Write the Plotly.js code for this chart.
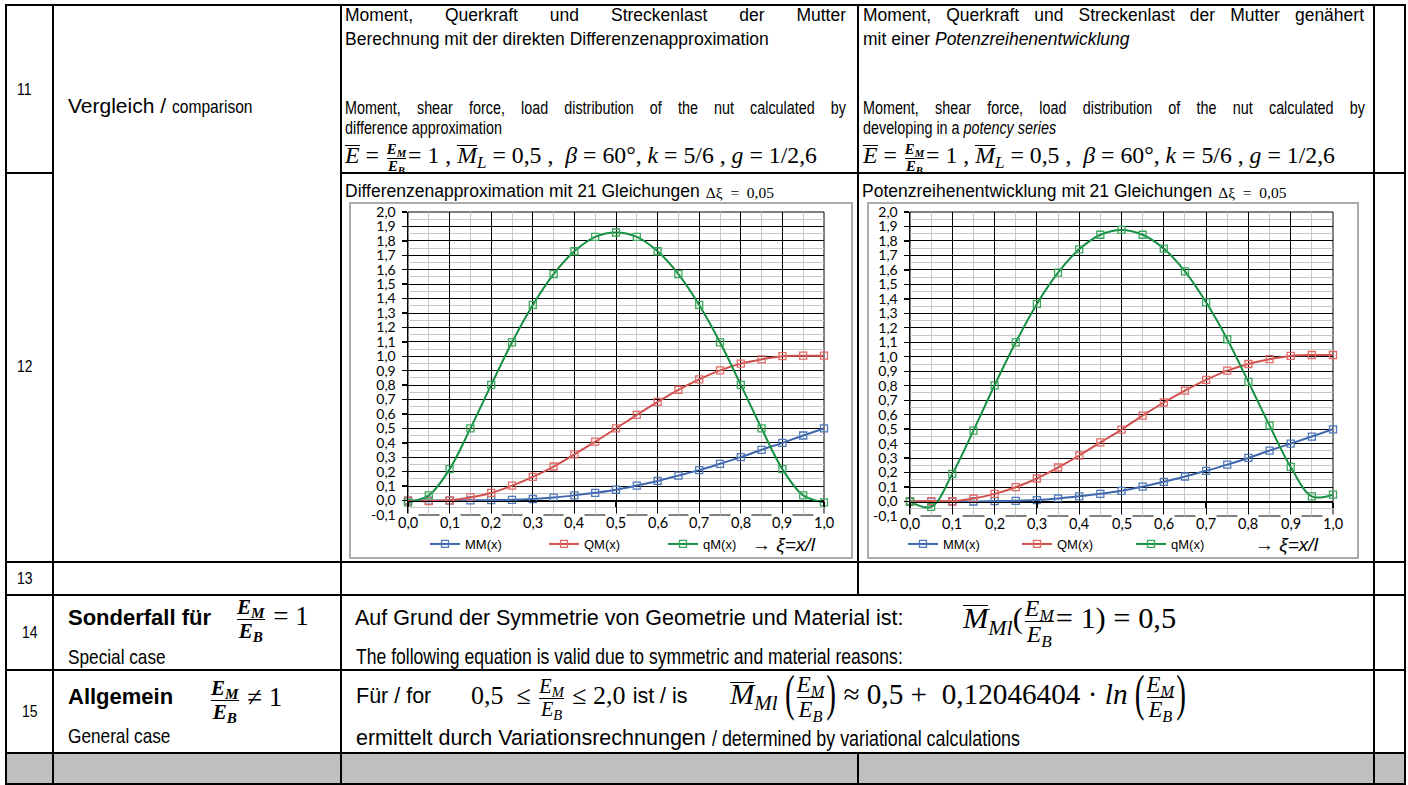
<!DOCTYPE html>
<html><head><meta charset="utf-8">
<script src="https://cdn.plot.ly/plotly-3.0.1.min.js"></script>
<style>
body{margin:0;width:1408px;height:785px;overflow:hidden;background:#fff;position:relative;color:#000}
.hl{position:absolute;background:#000;height:2px}
.vl{position:absolute;background:#000;width:2px}
.t{position:absolute;white-space:nowrap;line-height:1.15;z-index:5}
.fr{display:inline-flex;flex-direction:column;vertical-align:middle;text-align:center;line-height:1.05;margin:0 2px}
.fr>span:first-child{border-bottom:1.3px solid #000}
.ob{display:inline-block;line-height:.75;border-top:1.2px solid #000;padding-top:1px}
sub{font-size:.72em;vertical-align:-.28em;line-height:0}
.bp{display:inline-block;transform:scale(1,1.7)}
.plot{position:absolute;z-index:2}
.box{position:absolute;box-sizing:border-box;border:2px solid #ababab;z-index:6;pointer-events:none}
</style></head>
<body>
<div style="position:absolute;left:6px;top:753px;width:1399px;height:31px;background:#bfbfbf"></div>
<!-- horizontal rules -->
<div class="hl" style="left:5px;top:4px;width:1401px"></div>
<div class="hl" style="left:5px;top:172px;width:49px"></div>
<div class="hl" style="left:340px;top:172px;width:1066px"></div>
<div class="hl" style="left:5px;top:561px;width:1401px"></div>
<div class="hl" style="left:5px;top:594px;width:1401px"></div>
<div class="hl" style="left:5px;top:669px;width:1401px"></div>
<div class="hl" style="left:5px;top:752px;width:1401px"></div>
<div class="hl" style="left:5px;top:783px;width:1401px"></div>
<!-- vertical rules -->
<div class="vl" style="left:5px;top:4px;height:781px"></div>
<div class="vl" style="left:52px;top:4px;height:781px"></div>
<div class="vl" style="left:340px;top:4px;height:781px"></div>
<div class="vl" style="left:857px;top:4px;height:591px"></div>
<div class="vl" style="left:857px;top:752px;height:33px"></div>
<div class="vl" style="left:1373px;top:4px;height:781px"></div>
<div class="vl" style="left:1404px;top:4px;height:781px"></div>

<div id="c1" class="plot" style="left:349px;top:202px;width:504px;height:357px"></div>
<div class="box" style="left:349px;top:202px;width:504px;height:357px"></div>
<div id="c2" class="plot" style="left:867px;top:202px;width:492px;height:357px"></div>
<div class="box" style="left:867px;top:202px;width:492px;height:357px"></div>

<script>
// ---------- data ----------
const xi = [0,0.05,0.1,0.15,0.2,0.25,0.3,0.35,0.4,0.45,0.5,0.55,0.6,0.65,0.7,0.75,0.8,0.85,0.9,0.95,1.0];
const seriesNames = ['MM(x)','QM(x)','qM(x)'];
// Differenzenapproximation (left chart)
const diffMM = [0,0,0,0.002,0.003,0.005,0.011,0.021,0.036,0.054,0.075,0.104,0.136,0.173,0.211,0.255,0.301,0.352,0.400,0.451,0.500];
const diffQM = [0,-0.004,0.002,0.022,0.053,0.103,0.164,0.236,0.320,0.408,0.500,0.594,0.684,0.768,0.840,0.902,0.949,0.979,1.001,1.004,1.004];
const diffqM = [-0.012,0.036,0.218,0.500,0.802,1.097,1.356,1.570,1.728,1.828,1.858,1.828,1.728,1.570,1.356,1.097,0.802,0.500,0.218,0.036,-0.012];
// Potenzreihenentwicklung (right chart)
const potMM = [0,0,0,0,0.003,0.005,0.010,0.021,0.036,0.053,0.074,0.103,0.136,0.173,0.212,0.255,0.301,0.352,0.400,0.449,0.499];
const potQM = [0,0.003,0.002,0.021,0.053,0.099,0.159,0.235,0.318,0.408,0.497,0.594,0.684,0.766,0.840,0.904,0.950,0.983,1.006,1.012,1.012];
const potqM = [0.0,-0.037,0.191,0.490,0.803,1.100,1.365,1.581,1.742,1.843,1.876,1.843,1.747,1.590,1.376,1.121,0.826,0.525,0.239,0.035,0.048];
// axes
const xTicks = [0,0.1,0.2,0.3,0.4,0.5,0.6,0.7,0.8,0.9,1.0];
const xMinor = [0.05,0.15,0.25,0.35,0.45,0.55,0.65,0.75,0.85,0.95];
const yTicks = [-0.1,0,0.1,0.2,0.3,0.4,0.5,0.6,0.7,0.8,0.9,1.0,1.1,1.2,1.3,1.4,1.5,1.6,1.7,1.8,1.9,2.0];
const yMinor = [-0.05,0.05,0.15,0.25,0.35,0.45,0.55,0.65,0.75,0.85,0.95,1.05,1.15,1.25,1.35,1.45,1.55,1.65,1.75,1.85,1.95];
const xAxisLabel = '→ <i>ξ=x/l</i>';

const fmt = v => v.toFixed(1).replace('.', ',');
const AR = "'Liberation Sans',Arial,sans-serif";
const SR = "'Liberation Serif','Times New Roman',serif";
const TK = "Lato,'Open Sans',sans-serif";
const NX = 0.82;   // horizontal squeeze used to imitate Arial Narrow

const lineCol = ['#3d66ad','#d0504d','#169043'];
const markCol = ['#4f78ba','#e06a66','#3aa75c'];

function traces(ys){
  return ys.map((y,i)=>({
    x: xi, y: y, name: seriesNames[i], type:'scatter', mode:'lines+markers',
    line:{color:lineCol[i], width:2, shape:'spline', smoothing:1},
    marker:{symbol:'square-open', size:7, color:markCol[i], line:{width:1.3}},
    cliponaxis:false
  }));
}
function layout(W,H,m,legendLeftPx,entryW,arrowPx){
  const pw = W-m.l-m.r, ph = H-m.t-m.b, bottom = H-m.b;
  const ann = xTicks.map(v=>({x:v, y:-0.1, xref:'x', yref:'y', text:fmt(v), showarrow:false,
     yanchor:'middle', yshift:-7.5, bgcolor:'#ffffff', borderpad:0, font:{family:TK, size:14.5, color:'#000'}}));
  ann.push({x:(arrowPx-m.l)/pw, y:(bottom-342)/ph, xref:'paper', yref:'paper', xanchor:'left', yanchor:'middle',
     text:xAxisLabel, showarrow:false, font:{family:AR, size:19, color:'#000'}});
  return {
    width:W, height:H, margin:{l:m.l, r:m.r, t:m.t, b:m.b, pad:0},
    paper_bgcolor:'#fff', plot_bgcolor:'#fff', showlegend:true,
    legend:{orientation:'h', xref:'container', yref:'container', x:legendLeftPx/W, y:(H-342)/H,
      xanchor:'left', yanchor:'middle', font:{family:AR, size:13, color:'#000'},
      entrywidth:entryW, entrywidthmode:'pixels', bgcolor:'rgba(0,0,0,0)', tracegroupgap:0},
    xaxis:{range:[0,1], tickmode:'array', tickvals:xTicks, showticklabels:false,
      showgrid:true, gridcolor:'#000', gridwidth:1,
      minor:{tickmode:'array', tickvals:xMinor, showgrid:true, gridcolor:'#c6c6c6', gridwidth:1, ticks:''},
      anchor:'free', position:(0-(-0.1))/2.1, showline:true, linecolor:'#000', linewidth:1.5,
      ticks:'outside', ticklen:5, tickcolor:'#000', tickwidth:1.3, zeroline:false, fixedrange:true},
    yaxis:{range:[-0.1,2.0], tickmode:'array', tickvals:yTicks, ticktext:yTicks.map(fmt),
      showgrid:true, gridcolor:'#000', gridwidth:1,
      minor:{tickmode:'array', tickvals:yMinor, showgrid:true, gridcolor:'#c6c6c6', gridwidth:1, ticks:''},
      showline:true, linecolor:'#000', linewidth:1.5, ticks:'outside', ticklen:5, tickcolor:'#000', tickwidth:1.3,
      ticklabelstandoff:3, tickfont:{family:TK, size:14, color:'#000'}, zeroline:false, fixedrange:true},
    shapes:[{type:'rect', xref:'paper', yref:'paper', x0:0, x1:1, y0:0, y1:1, line:{color:'#000', width:1}, layer:'between'}],
    annotations:ann
  };
}
const cfg = {staticPlot:true, displayModeBar:false};
Plotly.newPlot('c1', traces([diffMM,diffQM,diffqM]), layout(504,357,{l:59,r:29,t:10,b:44},76,74,401), cfg);
Plotly.newPlot('c2', traces([potMM,potQM,potqM]), layout(492,357,{l:43,r:26,t:10,b:43},36,69,386), cfg);

// ---------- text ----------
function T(html,o){
  const d=document.createElement('div');
  d.className='t'; d.innerHTML=html;
  d.style.fontFamily=o.f||AR; d.style.fontSize=o.fs+'px';
  d.style.left='0px'; d.style.top='0px';
  if(o.b) d.style.fontWeight='bold';
  const sx=o.sx||1;
  if(sx!==1){d.style.transformOrigin='0 50%'; d.style.transform='scaleX('+sx+')';}
  document.body.appendChild(d);
  if(o.jw){d.style.whiteSpace='normal';d.style.width=(o.jw/sx)+'px';d.style.textAlign='justify';d.style.textAlignLast='justify';}
  if(o.w){const w0=d.getBoundingClientRect().width; d.style.fontSize=(o.fs*o.w/w0)+'px';}
  const r=d.getBoundingClientRect();
  const left=(o.right!=null)?(o.right-r.width):o.x;
  d.style.left=left+'px';
  d.style.top=(o.cy-r.height/2)+'px';
  return left+r.width;
}
const fracB = (s)=>'<span class="fr" style="font-size:'+s+'em;font-weight:bold"><span><i>E<sub>M</sub></i></span><span><i>E<sub>B</sub></i></span></span>';
const frac = (s)=>'<span class="fr" style="font-size:'+s+'em"><span><i>E<sub>M</sub></i></span><span><i>E<sub>B</sub></i></span></span>';
const f11 = '<i class="ob">E</i> = '+fracB(0.62)+'= 1 , <i class="ob">M</i><sub><i>L</i></sub> = 0,5 ,&nbsp; <i>β</i> = 60°, <i>k</i> = 5/6 , <i>g</i> = 1/2,6';

function drawText(){
  // row 11
  T('11',{x:17,cy:90,fs:17,sx:NX});
  let e = T('Vergleich /&nbsp;',{x:68,cy:106,fs:21});
  T('comparison',{x:e,cy:107,fs:19,sx:NX});
  T('Moment, Querkraft und Streckenlast der Mutter',{x:345,cy:15,fs:17.5,jw:501});
  T('Berechnung mit der direkten Differenzenapproximation',{x:345,cy:39,fs:17.5});
  T('Moment, shear force, load distribution of the nut calculated by',{x:345,cy:108,fs:17.5,sx:NX,jw:501});
  T('difference approximation',{x:345,cy:128,fs:17.5,sx:NX});
  T(f11,{x:345,cy:158,f:SR,fs:20,w:473});
  T('Moment, Querkraft und Streckenlast der Mutter genähert',{x:863,cy:15,fs:17.5,jw:501});
  T('mit einer <i>Potenzreihenentwicklung</i>',{x:863,cy:39,fs:17.5});
  T('Moment, shear force, load distribution of the nut calculated by',{x:863,cy:108,fs:17.5,sx:NX,jw:502});
  T('developing in a <i>potency series</i>',{x:863,cy:128,fs:17.5,sx:NX});
  T(f11,{x:863,cy:158,f:SR,fs:20,w:473});
  // row 12
  T('12',{x:17,cy:367,fs:17,sx:NX});
  e = T('Differenzenapproximation mit 21 Gleichungen',{x:345,cy:191,fs:17.5});
  T('Δξ&ensp;=&ensp;0,05',{x:e+6,cy:193,f:SR,fs:15.5});
  e = T('Potenzreihenentwicklung mit 21 Gleichungen',{x:862,cy:191,fs:17.5});
  T('Δξ&ensp;=&ensp;0,05',{x:e+6,cy:193,f:SR,fs:15.5});
  // row 13
  T('13',{x:17,cy:579,fs:17,sx:NX});
  // row 14
  T('14',{x:22,cy:633,fs:17,sx:NX});
  T('Sonderfall für',{x:68,cy:618,fs:22,b:1});
  T(fracB(0.78)+'&nbsp;= 1',{x:235,cy:619,f:SR,fs:27});
  T('Special case',{x:68,cy:657,fs:21,sx:NX});
  T('Auf Grund der Symmetrie von Geometrie und Material ist:',{x:355,cy:618,fs:21.5});
  T('<i class="ob">M</i><sub><i>Ml</i></sub>('+frac(0.78)+'= 1) = 0,5',{x:963,cy:621,f:SR,fs:26,w:214});
  T('The following equation is valid due to symmetric and material reasons:',{x:356,cy:657,fs:21,sx:NX,w:547});
  // row 15
  T('15',{x:22,cy:712,fs:17,sx:NX});
  T('Allgemein',{x:68,cy:697,fs:22,b:1});
  T(fracB(0.78)+'&nbsp;≠ 1',{x:209,cy:700,f:SR,fs:27});
  T('General case',{x:68,cy:736,fs:21,sx:NX});
  T('Für / for',{x:356,cy:696,fs:21.5});
  e = T('0,5 &nbsp;≤ '+frac(0.78)+' ≤ 2,0',{x:471,cy:698,f:SR,fs:26});
  T('ist / is',{x:e+7,cy:696,fs:21.5});
  T('<i class="ob">M</i><sub><i>Ml</i></sub> <span class="bp">(</span>'+frac(0.78)+'<span class="bp">)</span> ≈ 0,5 + &nbsp;0,12046404 · <i>ln</i> <span class="bp">(</span>'+frac(0.78)+'<span class="bp">)</span>',{x:730,cy:697,f:SR,fs:26,w:457});
  e = T('ermittelt durch Variationsrechnungen&nbsp;',{x:356,cy:738,fs:21.5});
  T('/ determined by variational calculations',{x:e,cy:739,fs:20,sx:NX,w:1020-e});
}
if(document.fonts && document.fonts.ready){document.fonts.ready.then(drawText);} else drawText();
</script>
</body></html>
